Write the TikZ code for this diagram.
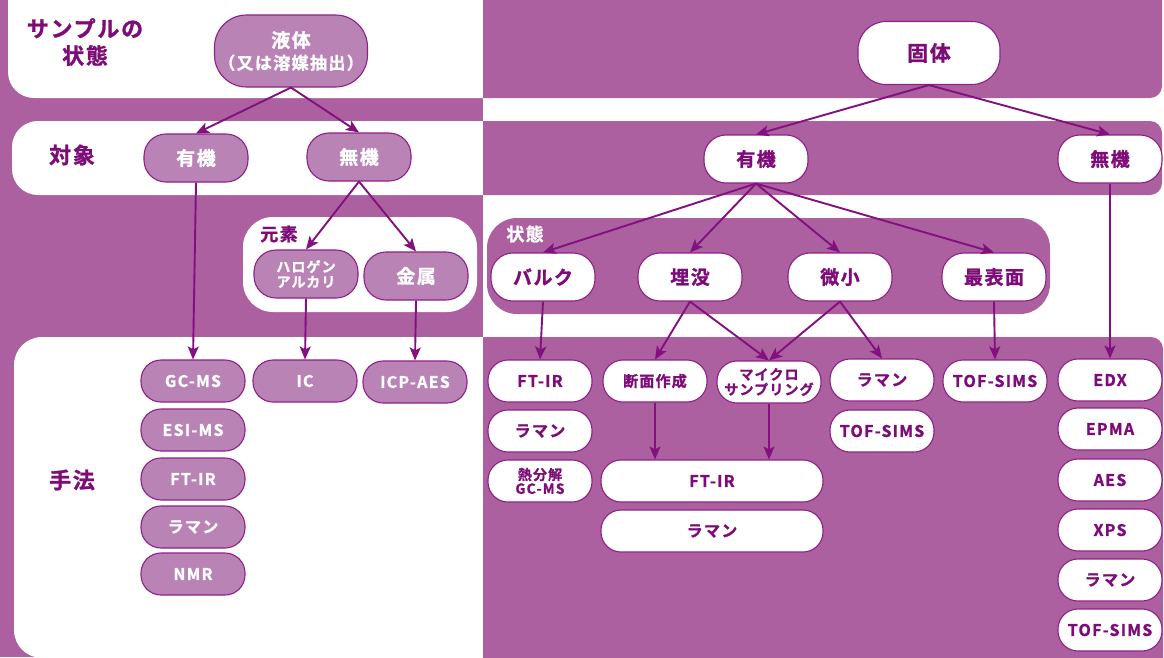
\documentclass[tikz,border=0pt]{standalone}
\usepackage{fontspec}
\setmainfont{Noto Sans CJK JP}[BoldFont={* Bold}, BoldFeatures={FakeBold=1.2}]
\usetikzlibrary{arrows.meta}
\definecolor{pbg}{HTML}{AC60A0}
\definecolor{lfill}{HTML}{B983B5}
\definecolor{bord}{HTML}{8E2088}
\definecolor{adark}{HTML}{82107E}
\definecolor{ptext}{HTML}{7E0C78}
\newcommand\fsz[2]{\bfseries\fontsize{#1}{#2}\selectfont\addfontfeature{LetterSpace=8}}
\tikzset{
  base/.style={draw=bord, line width=1.1pt, rounded corners=20pt, minimum width=104pt, minimum height=42pt, inner sep=0pt, align=center, font=\fsz{16}{17}},
  ln/.style={base, fill=lfill, text=white},
  rn/.style={base, fill=white, text=ptext},
  tall/.style={minimum height=48pt, rounded corners=22pt, font=\fsz{19}{20}},
  lab/.style={text=ptext, font=\fsz{22}{27}, align=center, inner sep=0pt},
  arr/.style={draw=adark, line width=1.9pt, -{Stealth[length=13pt,width=11pt,inset=3pt]}},
}
\begin{document}
\begin{tikzpicture}[x=1pt,y=-1pt]
\useasboundingbox (0,0) rectangle (1164,657);
% backgrounds
\fill[pbg] (0,0) rectangle (483,657);
\fill[white] (483,0) rectangle (1164,657);
\begin{scope}
  \clip (0,0) rectangle (483,657);
  \fill[white, rounded corners=26pt] (8,-40) rectangle (530,98);
  \fill[white, rounded corners=26pt] (12,121) rectangle (530,195);
  \fill[white, rounded corners=28pt] (14,337) rectangle (530,658);
\end{scope}
\begin{scope}
  \clip (483,0) rectangle (1164,657);
  \fill[pbg, rounded corners=12pt] (440,-40) rectangle (1162,98);
  \fill[pbg, rounded corners=12pt] (440,121) rectangle (1162,195);
  \fill[pbg, rounded corners=12pt] (440,337) rectangle (1163,700);
\end{scope}
% group boxes
\fill[white, rounded corners=30pt] (243,217) rectangle (477,312);
\fill[pbg, rounded corners=30pt] (487,218) rectangle (1050,314);
% labels
\node[lab] (lsamp) at (85,42) {サンプルの\\状態};
\node[lab] (ltarget) at (72,155) {対象};
\node[lab] (lmethod) at (72,480) {手法};
\node[lab, font=\fsz{18}{20}] (lelem) at (279,234) {元素};
\node[lab, text=white, font=\fsz{18}{20}] (lstate) at (525,234) {状態};
% left nodes
\node[ln, minimum width=153pt, minimum height=72pt, rounded corners=32pt, font=\fsz{19}{22}] (liq) at (291,51) {液体\\{\fsz{17}{20}（又は溶媒抽出）}};
\node[ln, tall] (orgL) at (196,158) {有機};
\node[ln, tall] (inoL) at (359,157) {無機};
\node[ln, tall, font=\fsz{14}{15}] (hal) at (306,274) {ハロゲン\\アルカリ};
\node[ln, tall] (met) at (416,276) {金属};
\node[ln] (gcms) at (193,381) {GC-MS};
\node[ln] (ic) at (305,381) {IC};
\node[ln] (icp) at (415,382) {ICP-AES};
\node[ln] (esi) at (193,430) {ESI-MS};
\node[ln] (ftirL) at (193,479) {FT-IR};
\node[ln] (ramL) at (193,527) {ラマン};
\node[ln] (nmr) at (193,574) {NMR};
% right nodes
\node[rn, minimum width=142pt, minimum height=63pt, rounded corners=28pt, font=\fsz{21}{22}] (sol) at (929,53) {固体};
\node[rn, tall] (orgR) at (756,159) {有機};
\node[rn, tall] (inoR) at (1110,159) {無機};
\node[rn, tall] (bulk) at (543,277) {バルク};
\node[rn, tall] (emb) at (690,277) {埋没};
\node[rn, tall] (mic) at (840,277) {微小};
\node[rn, tall] (surf) at (994,277) {最表面};
\node[rn] (ftirB) at (540,381) {FT-IR};
\node[rn, font=\fsz{15}{16}] (sect) at (655,381) {断面作成};
\node[rn, font=\fsz{14}{15}] (msamp) at (769,382) {マイクロ\\サンプリング};
\node[rn] (ramM) at (882,380) {ラマン};
\node[rn] (tofS) at (995,381) {TOF-SIMS};
\node[rn] (edx) at (1110,380) {EDX};
\node[rn] (ramB) at (540,431) {ラマン};
\node[rn, font=\fsz{14}{14}] (pyro) at (540,481) {熱分解\\GC-MS};
\node[rn, minimum width=222pt] (ftirW) at (712,481) {FT-IR};
\node[rn, minimum width=222pt] (ramW) at (712,531) {ラマン};
\node[rn] (tofM) at (882,431) {TOF-SIMS};
\node[rn] (epma) at (1110,429) {EPMA};
\node[rn] (aes) at (1110,480) {AES};
\node[rn] (xps) at (1110,530) {XPS};
\node[rn] (ramI) at (1110,580) {ラマン};
\node[rn] (tofI) at (1110,630) {TOF-SIMS};
% arrows left
\draw[arr] (liq.south) -- (orgL.north);
\draw[arr] (liq.south) -- (inoL.north);
\draw[arr] (orgL.south) -- (gcms.north);
\draw[arr] (inoL.south) -- (hal.north);
\draw[arr] (inoL.south) -- (met.north);
\draw[arr] (hal.south) -- (ic.north);
\draw[arr] (met.south) -- (icp.north);
% arrows right
\draw[arr] (sol.south) -- (orgR.north);
\draw[arr] (sol.south) -- (inoR.north);
\draw[arr] (orgR.south) -- (bulk.north);
\draw[arr] (orgR.south) -- (emb.north);
\draw[arr] (orgR.south) -- (mic.north);
\draw[arr] (orgR.south) -- (surf.north);
\draw[arr] (bulk.south) -- (ftirB.north);
\draw[arr] (emb.south) -- (sect.north);
\draw[arr] (emb.south) -- (msamp.north);
\draw[arr] (mic.south) -- (msamp.north);
\draw[arr] (mic.south) -- (ramM.north);
\draw[arr] (surf.south) -- (tofS.north);
\draw[arr] (inoR.south) -- (edx.north);
\draw[arr] (sect.south) -- (sect.south |- ftirW.north);
\draw[arr] (msamp.south) -- (msamp.south |- ftirW.north);
\end{tikzpicture}
\end{document}
